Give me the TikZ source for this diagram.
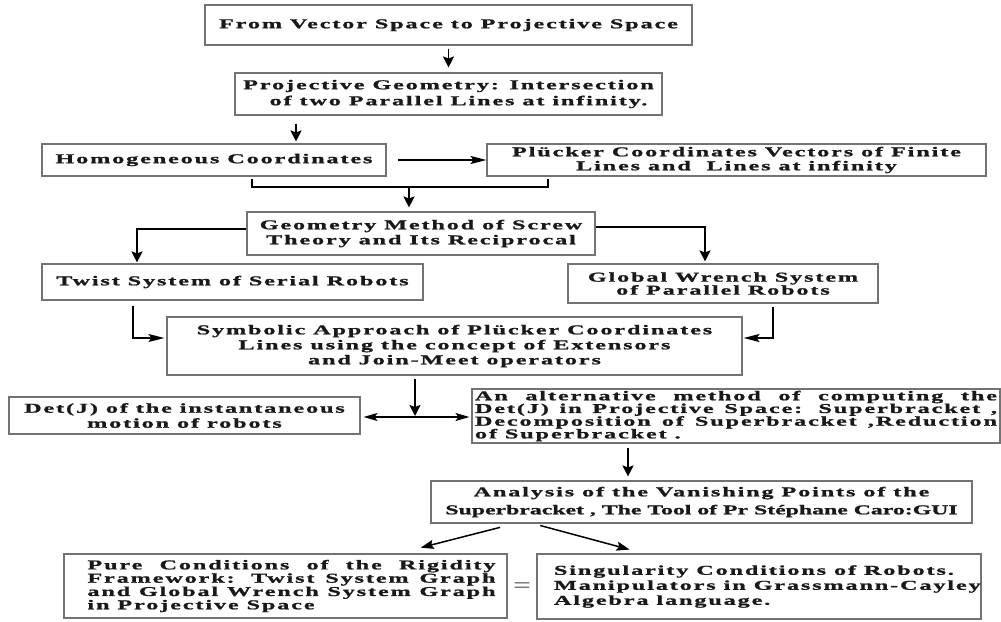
\documentclass[tikz,border=0pt]{standalone}
\usepackage{fontspec}
\newfontfamily\bx{Liberation Serif}[FakeStretch=1.79,LetterSpace=14,FakeBold=1.3]
\newfontfamily\bxt{Liberation Serif}[FakeStretch=1.76,FakeBold=1.3]
\usetikzlibrary{arrows.meta,calc}
\definecolor{boxgray}{gray}{0.45}
\definecolor{textc}{gray}{0.1}
\begin{document}
\begin{tikzpicture}[x=1pt,y=-1pt,
  box/.style={draw=boxgray,line width=1.1pt,inner sep=0pt,align=center,text=textc},
  fs/.style={font=\bx\bfseries\fontsize{13.5pt}{#1}\selectfont},
  fs/.default=15pt,
  arr/.style={line width=1.8pt,-{Stealth[length=11pt,width=11pt,inset=2pt]}},
  harr/.style={line width=1.5pt,-{Stealth[length=16pt,width=8pt,inset=3pt]}},
  darr/.style={line width=1.5pt,{Stealth[length=14pt,width=8pt,inset=3pt]}-{Stealth[length=14pt,width=8pt,inset=3pt]}},
  diag/.style={line width=1.5pt,-{Stealth[length=13pt,width=9pt,inset=2pt]}},
  ln/.style={line width=1.8pt}
]
\useasboundingbox (0,0) rectangle (1001,621);

% boxes
\node[box,fs,minimum width=487pt,minimum height=40pt] (b1) at (448.5,25) {From Vector Space to Projective Space};
\node[box,fs=16pt,minimum width=427pt,minimum height=42pt] (b2) at (448.5,94) {Projective Geometry: Intersection\\\hspace*{20pt}of two Parallel Lines at infinity.};
\node[box,fs,minimum width=344pt,minimum height=32pt] (b3) at (214,160) {Homogeneous Coordinates};
\node[box,fs=14pt,minimum width=499pt,minimum height=32pt] (b4) at (736.5,160) {Plücker Coordinates Vectors of Finite\\Lines and~ Lines at infinity};
\node[box,fs=15pt,minimum width=348pt,minimum height=43pt] (b5) at (421,233.5) {Geometry Method of Screw\\Theory and Its Reciprocal};
\node[box,fs,minimum width=381pt,minimum height=36pt] (b6) at (232.5,282) {Twist System of Serial Robots};
\node[box,fs=13pt,minimum width=310pt,minimum height=39pt] (b7) at (723,283.5) {Global Wrench System\\of Parallel Robots};
\node[box,fs=15pt,minimum width=575pt,minimum height=58pt] (b8) at (454.5,346) {Symbolic Approach of Plücker Coordinates\\Lines using the concept of Extensors\\and Join-Meet operators};
\node[box,fs=15pt,minimum width=351pt,minimum height=37pt] (b9) at (184.5,415.5) {Det(J) of the instantaneous\\motion of robots};
\node[box,fs=12.7pt,minimum width=528pt,minimum height=54pt] (b10) at (736,416) {%
\makebox[522pt][s]{An alternative method of computing the}\\
\makebox[522pt][s]{Det(J) in Projective Space: Superbracket ,}\\
\makebox[522pt][s]{Decomposition of Superbracket ,Reduction}\\
\makebox[522pt][l]{of Superbracket .}};
\node[box,fs=18pt,minimum width=541pt,minimum height=42pt] (b11) at (701.5,502) {Analysis of the Vanishing Points of the\\{\bxt\bfseries Superbracket , The Tool of Pr Stéphane Caro:GUI}};
\node[box,fs=13.3pt,minimum width=443pt,minimum height=64pt] (b12) at (285.5,586) {%
\hspace*{12pt}\makebox[408pt][s]{Pure Conditions of the Rigidity}\\
\hspace*{12pt}\makebox[408pt][s]{Framework: Twist System Graph}\\
\hspace*{12pt}\makebox[408pt][s]{and Global Wrench System Graph}\\
\hspace*{12pt}\makebox[408pt][l]{in Projective Space}};
\node[box,fs=15pt,minimum width=444pt,minimum height=65pt] (b13) at (759,586.5) {%
\hspace*{6pt}\makebox[416pt][l]{Singularity Conditions of Robots.}\\
\hspace*{6pt}\makebox[416pt][l]{Manipulators in Grassmann-Cayley}\\
\hspace*{6pt}\makebox[416pt][l]{Algebra language.}};
\node[text=gray!60!black,font=\bfseries\fontsize{20pt}{20pt}\selectfont,inner sep=0pt] (eq) at (522,587) {=};

% helper coordinates
\coordinate (c2) at (296,0);
\coordinate (k1) at (252,187);
\coordinate (k2) at (548,187);
\coordinate (k3) at (409,187);
\coordinate (k4) at (137,229);
\coordinate (k5) at (705,227);
\coordinate (k6) at (133,338);
\coordinate (k7) at (773,338);
\coordinate (k8) at (415,417);
\coordinate (k9) at (628,0);
\coordinate (d1) at (515,0);
\coordinate (d2) at (398,0);
\coordinate (d3) at (533,0);
\coordinate (d4) at (644,0);

% connectors
\draw[arr,shorten <=3pt,shorten >=5pt] (b1.south) -- (b2.north);
\draw[arr,shorten <=8pt,shorten >=2pt] (b2.south -| c2) -- (b3.north -| c2);
\draw[harr,shorten <=11pt] (b3.east) -- (b4.west);
\draw[ln,shorten <=2pt,shorten >=2pt] (b3.south -| k1) -- (k1) -- (k2) -- (b4.south -| k2);
\draw[arr,shorten >=4pt] (k3) -- (b5.north -| k3);
\draw[arr,shorten >=1pt] (b5.west |- k4) -- (k4) -- (b6.north -| k4);
\draw[arr,shorten >=2pt] (b5.east |- k5) -- (k5) -- (b7.north -| k5);
\draw[harr,shorten <=5pt,shorten >=2pt] (b6.south -| k6) -- (k6) -- (b8.west |- k6);
\draw[harr,shorten <=3pt,shorten >=1pt] (b7.south -| k7) -- (k7) -- (b8.east |- k7);
\draw[arr,shorten <=3pt,shorten >=1pt] (b8.south -| k8) -- (k8);
\draw[darr,shorten <=3pt,shorten >=2pt] (b9.east |- k8) -- (b10.west |- k8);
\draw[arr,shorten <=4pt,shorten >=4pt] (b10.south -| k9) -- (b11.north -| k9);
\draw[diag,shorten <=15.5pt,shorten >=23.4pt] (b11.south -| d1) -- (b12.north -| d2);
\draw[diag,shorten <=7.5pt,shorten >=14.9pt] (b11.south -| d3) -- (b13.north -| d4);
\end{tikzpicture}
\end{document}
